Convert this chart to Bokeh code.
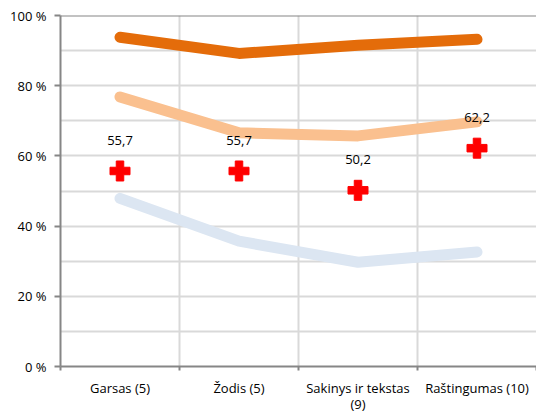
from bokeh.plotting import figure
from bokeh.models import FixedTicker, Range1d, Span, ColumnDataSource
from bokeh.embed import file_html
from bokeh.resources import INLINE
from bokeh.core.properties import value

categories = ["Garsas (5)", "Žodis (5)", "Sakinys ir tekstas\n(9)", "Raštingumas (10)"]
dark_orange = [93.8, 89.2, 91.5, 93.2]
light_orange = [76.8, 66.6, 65.7, 69.7]
light_blue = [47.9, 35.7, 29.7, 32.6]
red_values = [55.7, 55.7, 50.2, 62.2]
red_labels = ["55,7", "55,7", "50,2", "62,2"]
y_ticks = [0, 20, 40, 60, 80, 100]

xs = [i + 0.5 for i in range(len(categories))]
FONT = "Open Sans"

p = figure(width=536, height=415, output_backend="svg", toolbar_location=None,
           x_range=Range1d(0, 4), y_range=Range1d(0, 100),
           min_border_left=60, min_border_right=0, min_border_top=15, min_border_bottom=47)
p.outline_line_color = None
p.background_fill_color = "white"

# grids
p.xgrid.ticker = FixedTicker(ticks=[1, 2, 3])
p.ygrid.ticker = FixedTicker(ticks=list(range(0, 101, 10)))
p.xgrid.grid_line_color = "#D9D9D9"
p.ygrid.grid_line_color = "#D9D9D9"
p.xgrid.grid_line_width = 2
p.ygrid.grid_line_width = 2

# top border
p.add_layout(Span(location=100, dimension="width", line_color="#868686", line_width=2))

# x axis
p.xaxis.ticker = FixedTicker(ticks=xs, minor_ticks=[0, 1, 2, 3, 4])
p.xaxis.major_label_overrides = {x: c for x, c in zip(xs, categories)}
p.xaxis.major_tick_line_color = None
p.xaxis.major_tick_in = 0
p.xaxis.major_tick_out = 0
p.xaxis.minor_tick_in = 0
p.xaxis.minor_tick_out = 4
p.xaxis.minor_tick_line_color = "#868686"
p.xaxis.minor_tick_line_width = 2
p.xaxis.axis_line_color = "#868686"
p.xaxis.axis_line_width = 2
p.xaxis.major_label_text_font = FONT
p.xaxis.major_label_text_font_size = "13px"
p.xaxis.major_label_text_line_height = 0.9
p.xaxis.major_label_text_color = "#000000"
p.xaxis.major_label_standoff = 8

# y axis
p.yaxis.ticker = FixedTicker(ticks=y_ticks)
p.yaxis.major_label_overrides = {t: f"{t} %" for t in y_ticks}
p.yaxis.major_tick_in = 0
p.yaxis.major_tick_out = 6
p.yaxis.major_tick_line_color = "#868686"
p.yaxis.major_tick_line_width = 2
p.yaxis.minor_tick_line_color = None
p.yaxis.axis_line_color = "#868686"
p.yaxis.axis_line_width = 2
p.yaxis.major_label_text_font = FONT
p.yaxis.major_label_text_font_size = "13px"
p.yaxis.major_label_text_color = "#000000"
p.yaxis.major_label_standoff = 8

# lines
p.line(xs, light_blue, line_color="#DCE6F2", line_width=11, line_cap="round", line_join="round")
p.line(xs, light_orange, line_color="#FAC08F", line_width=11, line_cap="round", line_join="round")
p.line(xs, dark_orange, line_color="#E46C0A", line_width=11, line_cap="round", line_join="round")

# red markers
src = ColumnDataSource(dict(x=xs, y=red_values, t=red_labels))
p.scatter("x", "y", source=src, marker="plus", size=20, fill_color="#FF0000", line_color="#FF0000")
p.text("x", "y", text="t", source=src, y_offset=-26, text_align="center", text_baseline="bottom",
       text_font=value(FONT), text_font_size="13px", text_color="#000000")

open("out.html", "w").write(file_html(p, INLINE))
